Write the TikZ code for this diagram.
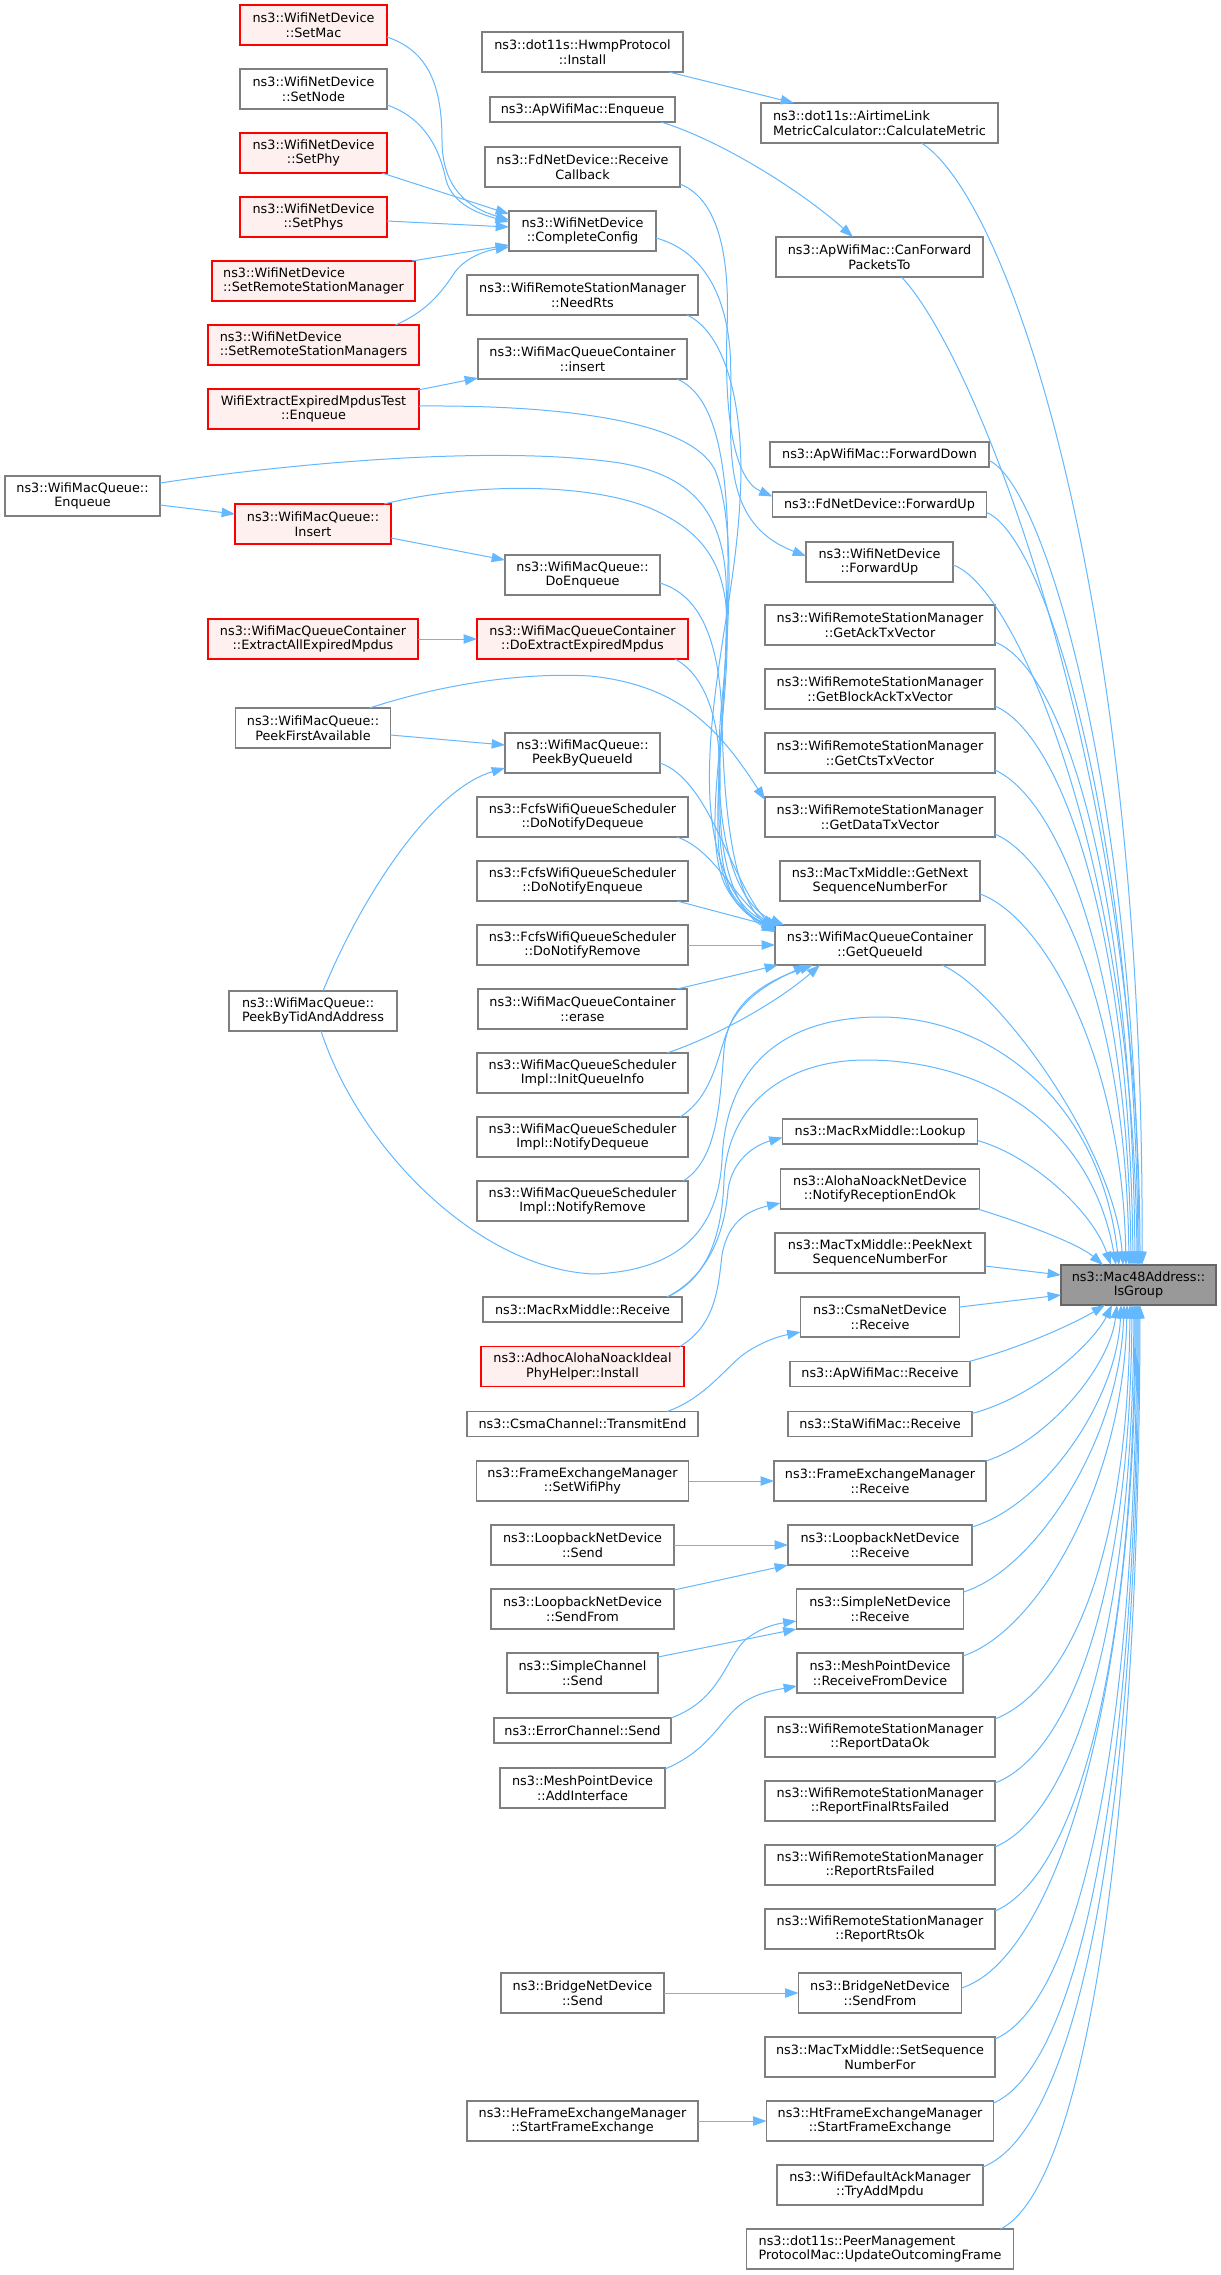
\documentclass[tikz,border=0pt]{standalone}
\usepackage{fontspec}
\setmainfont{DejaVu Sans}
\usetikzlibrary{arrows.meta,calc}
\definecolor{edgeblue}{HTML}{63B8FF}
\definecolor{boxgray}{HTML}{7F7F7F}
\definecolor{redfill}{HTML}{FFF0F0}
\definecolor{rootfill}{HTML}{999999}
\definecolor{rootdraw}{HTML}{666666}
\newcommand\dnode[7]{\node[#6, minimum width=#4*0.75pt, minimum height=#5*0.75pt] (#1) at (#2,#3) {#7};}
\tikzset{
  basebox/.style={rectangle, inner sep=0pt, outer sep=0pt, align=center, line width=0.9pt},
  plainbox/.style={basebox, draw=boxgray, fill=white},
  redbox/.style={basebox, draw=red, fill=redfill},
  rootbox/.style={basebox, draw=rootdraw, fill=rootfill},
  lefttext/.style={align=left},
  callarrow/.style={draw=edgeblue, line width=0.75pt, -{Triangle[length=10pt,width=7pt]}}
}
\begin{document}
\begin{tikzpicture}[x=0.75pt,y=-0.75pt,font=\fontsize{9.6}{11.1}\selectfont]
\useasboundingbox (0,0) rectangle (1221,2275);
\fill[white] (0,0) rectangle (1221,2275);

% ---------- column A / B ----------
\dnode{setmac}{313.5}{25}{147}{40}{redbox}{ns3::WifiNetDevice\\::SetMac}
\dnode{setnode}{313.5}{89}{147}{40}{plainbox}{ns3::WifiNetDevice\\::SetNode}
\dnode{setphy}{313.5}{153}{147}{40}{redbox}{ns3::WifiNetDevice\\::SetPhy}
\dnode{setphys}{313.5}{217}{147}{40}{redbox}{ns3::WifiNetDevice\\::SetPhys}
\dnode{setrsm}{313.5}{281}{203}{40}{redbox,lefttext}{ns3::WifiNetDevice\\::SetRemoteStationManager}
\dnode{setrsms}{313.5}{345}{211}{40}{redbox,lefttext}{ns3::WifiNetDevice\\::SetRemoteStationManagers}
\dnode{wifiext}{313.5}{409}{211}{40}{redbox}{WifiExtractExpiredMpdusTest\\::Enqueue}
\dnode{wmqenq}{82.5}{496}{155}{40}{plainbox}{ns3::WifiMacQueue::\\Enqueue}
\dnode{insq}{313}{524}{156}{40}{redbox}{ns3::WifiMacQueue::\\Insert}
\dnode{extractall}{313}{639}{210}{40}{redbox}{ns3::WifiMacQueueContainer\\::ExtractAllExpiredMpdus}
\dnode{peekfirst}{313}{728}{155}{40}{plainbox}{ns3::WifiMacQueue::\\PeekFirstAvailable}
\dnode{peektid}{313}{1011}{168}{40}{plainbox,lefttext}{ns3::WifiMacQueue::\\PeekByTidAndAddress}

% ---------- column C ----------
\dnode{hwmp}{582.5}{52}{201}{40}{plainbox}{ns3::dot11s::HwmpProtocol\\::Install}
\dnode{apenq}{582.5}{109.5}{185}{25}{plainbox}{ns3::ApWifiMac::Enqueue}
\dnode{rcvcb}{582.5}{167}{195}{40}{plainbox}{ns3::FdNetDevice::Receive\\Callback}
\dnode{cc}{582.5}{231}{147}{40}{plainbox}{ns3::WifiNetDevice\\::CompleteConfig}
\dnode{needrts}{582.5}{295}{231}{40}{plainbox}{ns3::WifiRemoteStationManager\\::NeedRts}
\dnode{insert}{582.5}{359}{209}{40}{plainbox}{ns3::WifiMacQueueContainer\\::insert}
\dnode{doenq}{582.5}{575}{155}{40}{plainbox}{ns3::WifiMacQueue::\\DoEnqueue}
\dnode{doext}{582.5}{639}{211}{40}{redbox}{ns3::WifiMacQueueContainer\\::DoExtractExpiredMpdus}
\dnode{peekbyq}{582.5}{753}{155}{40}{plainbox}{ns3::WifiMacQueue::\\PeekByQueueId}
\dnode{donotdeq}{582.5}{817}{211}{40}{plainbox}{ns3::FcfsWifiQueueScheduler\\::DoNotifyDequeue}
\dnode{donotenq}{582.5}{881}{211}{40}{plainbox}{ns3::FcfsWifiQueueScheduler\\::DoNotifyEnqueue}
\dnode{donotrem}{582.5}{945}{211}{40}{plainbox}{ns3::FcfsWifiQueueScheduler\\::DoNotifyRemove}
\dnode{erase}{582.5}{1009}{209}{40}{plainbox}{ns3::WifiMacQueueContainer\\::erase}
\dnode{initq}{582.5}{1073}{211}{40}{plainbox}{ns3::WifiMacQueueScheduler\\Impl::InitQueueInfo}
\dnode{notdeq}{582.5}{1137}{211}{40}{plainbox}{ns3::WifiMacQueueScheduler\\Impl::NotifyDequeue}
\dnode{notrem}{582.5}{1201}{211}{40}{plainbox}{ns3::WifiMacQueueScheduler\\Impl::NotifyRemove}
\dnode{macrx}{582.5}{1309.5}{199}{25}{plainbox}{ns3::MacRxMiddle::Receive}
\dnode{adhoc}{582.5}{1366.5}{203}{40}{redbox}{ns3::AdhocAlohaNoackIdeal\\PhyHelper::Install}
\dnode{csmach}{582.5}{1424}{231}{25}{plainbox}{ns3::CsmaChannel::TransmitEnd}
\dnode{setwifiphy}{582.5}{1481}{212}{40}{plainbox}{ns3::FrameExchangeManager\\::SetWifiPhy}
\dnode{lbsend}{582.5}{1545}{183}{40}{plainbox}{ns3::LoopbackNetDevice\\::Send}
\dnode{lbsendfrom}{582.5}{1609}{183}{40}{plainbox}{ns3::LoopbackNetDevice\\::SendFrom}
\dnode{simplech}{582.5}{1673}{151}{40}{plainbox}{ns3::SimpleChannel\\::Send}
\dnode{errch}{582.5}{1730.5}{177}{25}{plainbox}{ns3::ErrorChannel::Send}
\dnode{meshadd}{582.5}{1788}{165}{40}{plainbox}{ns3::MeshPointDevice\\::AddInterface}
\dnode{bridgesend}{582.5}{1993}{163}{40}{plainbox}{ns3::BridgeNetDevice\\::Send}
\dnode{hefem}{582.5}{2121}{231}{40}{plainbox}{ns3::HeFrameExchangeManager\\::StartFrameExchange}

% ---------- column D ----------
\dnode{airtime}{879.5}{123}{237}{40}{plainbox,lefttext}{ns3::dot11s::AirtimeLink\\MetricCalculator::CalculateMetric}
\dnode{canfwd}{879.5}{257}{207}{40}{plainbox}{ns3::ApWifiMac::CanForward\\PacketsTo}
\dnode{fwddown}{879.5}{454.5}{219}{25}{plainbox}{ns3::ApWifiMac::ForwardDown}
\dnode{fdfwd}{879.5}{504.5}{214}{25}{plainbox}{ns3::FdNetDevice::ForwardUp}
\dnode{wndfwd}{879.5}{562}{147}{40}{plainbox}{ns3::WifiNetDevice\\::ForwardUp}
\dnode{getack}{880}{625}{230}{40}{plainbox}{ns3::WifiRemoteStationManager\\::GetAckTxVector}
\dnode{getblock}{880}{689}{230}{40}{plainbox}{ns3::WifiRemoteStationManager\\::GetBlockAckTxVector}
\dnode{getcts}{880}{753}{230}{40}{plainbox}{ns3::WifiRemoteStationManager\\::GetCtsTxVector}
\dnode{getdata}{880}{817}{230}{40}{plainbox}{ns3::WifiRemoteStationManager\\::GetDataTxVector}
\dnode{getnext}{880}{881}{200}{40}{plainbox}{ns3::MacTxMiddle::GetNext\\SequenceNumberFor}
\dnode{gq}{880}{945}{210}{40}{plainbox}{ns3::WifiMacQueueContainer\\::GetQueueId}
\dnode{lookup}{880}{1131.5}{195}{25}{plainbox}{ns3::MacRxMiddle::Lookup}
\dnode{notifyrx}{880}{1189}{199}{40}{plainbox}{ns3::AlohaNoackNetDevice\\::NotifyReceptionEndOk}
\dnode{peeknext}{880}{1253}{210}{40}{plainbox}{ns3::MacTxMiddle::PeekNext\\SequenceNumberFor}
\dnode{csmand}{880}{1317}{159}{40}{plainbox}{ns3::CsmaNetDevice\\::Receive}
\dnode{aprcv}{880}{1374}{180}{25}{plainbox}{ns3::ApWifiMac::Receive}
\dnode{starcv}{880}{1424}{184}{25}{plainbox}{ns3::StaWifiMac::Receive}
\dnode{femrcv}{880}{1481}{212}{40}{plainbox}{ns3::FrameExchangeManager\\::Receive}
\dnode{lbrcv}{880}{1545}{184}{40}{plainbox}{ns3::LoopbackNetDevice\\::Receive}
\dnode{simplend}{880}{1609}{167}{40}{plainbox}{ns3::SimpleNetDevice\\::Receive}
\dnode{meshrcv}{880}{1673}{166}{40}{plainbox}{ns3::MeshPointDevice\\::ReceiveFromDevice}
\dnode{reportdata}{880}{1737}{230}{40}{plainbox}{ns3::WifiRemoteStationManager\\::ReportDataOk}
\dnode{reportfinal}{880}{1801}{230}{40}{plainbox}{ns3::WifiRemoteStationManager\\::ReportFinalRtsFailed}
\dnode{reportrtsf}{880}{1865}{230}{40}{plainbox}{ns3::WifiRemoteStationManager\\::ReportRtsFailed}
\dnode{reportrtsok}{880}{1929}{230}{40}{plainbox}{ns3::WifiRemoteStationManager\\::ReportRtsOk}
\dnode{bridgefrom}{880}{1993}{163}{40}{plainbox}{ns3::BridgeNetDevice\\::SendFrom}
\dnode{setseq}{880}{2057}{230}{40}{plainbox}{ns3::MacTxMiddle::SetSequence\\NumberFor}
\dnode{htfem}{880}{2121}{227}{40}{plainbox}{ns3::HtFrameExchangeManager\\::StartFrameExchange}
\dnode{tryadd}{880}{2185}{206}{40}{plainbox}{ns3::WifiDefaultAckManager\\::TryAddMpdu}
\dnode{peermgmt}{880}{2249}{267}{40}{plainbox,lefttext}{ns3::dot11s::PeerManagement\\ProtocolMac::UpdateOutcomingFrame}

% ---------- root ----------
\dnode{isg}{1138.5}{1285}{155}{40}{rootbox}{ns3::Mac48Address::\\IsGroup}

% ---------- edges into CompleteConfig ----------
\draw[callarrow] ($(setmac.east)+(0,12)$) .. controls (425,50) and (442,80) .. (442,140) .. controls (442,190) and (470,208) .. ($(cc.west)+(0,-11)$);
\draw[callarrow] ($(setnode.east)+(0,16)$) .. controls (425,118) and (440,150) .. (446,180) .. controls (453,205) and (480,214) .. ($(cc.west)+(0,-9)$);
\draw[callarrow] ($(setphy.south east)+(-5,0)$) -- ($(cc.west)+(0,-17)$);
\draw[callarrow] ($(setphys.east)+(0,4)$) -- ($(cc.west)+(0,-4)$);
\draw[callarrow] ($(setrsm.north east)+(-3,0)$) -- ($(cc.west)+(0,14)$);
\draw[callarrow] ($(setrsms.north)+(82,0)$) .. controls (425,312) and (440,295) .. (455,272) .. controls (468,255) and (490,250) .. ($(cc.west)+(0,16)$);

% ---------- column C to column D (upper) ----------
\draw[callarrow] ($(hwmp.south east)+(-14,0)$) -- ($(airtime.north west)+(33,0)$);
\draw[callarrow] ($(apenq.south east)+(-14,0)$) .. controls (720,140) and (800,190) .. ($(canfwd.north west)+(77,0)$);
\draw[callarrow] ($(rcvcb.south east)+(0,-3)$) .. controls (720,200) and (730,260) .. (727,330) .. controls (724,420) and (735,480) .. ($(fdfwd.west)+(0,-8)$);
\draw[callarrow] ($(cc.east)+(0,7)$) .. controls (700,250) and (725,290) .. (730,350) .. controls (735,430) and (712,520) .. ($(wndfwd.west)+(0,-6)$);

% ---------- edges into GetQueueId ----------
\draw[callarrow] ($(needrts.south east)+(-11,0)$) .. controls (730,335) and (745,420) .. (740,500) .. controls (735,600) and (705,700) .. (710,800) .. controls (715,880) and (745,915) .. ($(gq.north west)+(3,0)$);
\draw[callarrow] ($(insert.south east)+(-10,0)$) .. controls (715,395) and (728,460) .. (728,560) .. controls (728,700) and (712,800) .. (720,860) .. controls (728,905) and (750,920) .. ($(gq.north west)+(6,0)$);
\draw[callarrow] ($(wifiext.north east)+(-1,1)$) -- ($(insert.south west)+(0,-1)$);
\draw[callarrow] ($(wifiext.east)+(0,-3)$) .. controls (560,405) and (690,420) .. (715,470) .. controls (735,520) and (730,620) .. (722,700) .. controls (712,800) and (725,900) .. ($(gq.north west)+(9,0)$);
\draw[callarrow] ($(wmqenq.north east)+(0,7)$) .. controls (300,462) and (500,445) .. (620,463) .. controls (690,475) and (722,510) .. (726,580) .. controls (730,700) and (705,820) .. (730,890) .. controls (742,912) and (760,922) .. ($(gq.north west)+(1,0)$);
\draw[callarrow] ($(wmqenq.east)+(0,9)$) -- ($(insq.west)+(0,-10)$);
\draw[callarrow] ($(insq.north east)+(-7,0)$) .. controls (460,485) and (580,480) .. (650,508) .. controls (700,530) and (725,560) .. (727,620) .. controls (730,720) and (700,830) .. (725,885) .. controls (738,910) and (755,920) .. ($(gq.north west)+(0,4)$);
\draw[callarrow] ($(insq.east)+(0,14)$) -- ($(doenq.west)+(0,-15)$);
\draw[callarrow] ($(doenq.east)+(0,8)$) .. controls (700,595) and (720,640) .. (722,720) .. controls (724,820) and (735,900) .. ($(gq.north west)+(0,6)$);
\draw[callarrow] (extractall.east) -- (doext.west);
\draw[callarrow] ($(doext.south east)+(-13,0)$) .. controls (705,675) and (722,720) .. (720,790) .. controls (718,870) and (740,915) .. ($(gq.north west)+(0,7)$);
\draw[callarrow] ($(peekfirst.east)+(0,7)$) -- ($(peekbyq.west)+(0,-8)$);
\draw[callarrow] ($(peekfirst.north east)+(-21,0)$) .. controls (440,685) and (520,672) .. (590,676) .. controls (680,685) and (720,730) .. ($(getdata.north west)+(0,3)$);
\draw[callarrow] ($(peekbyq.east)+(0,10)$) .. controls (710,780) and (730,880) .. ($(gq.north west)+(0,5)$);
\draw[callarrow] ($(donotdeq.south east)+(-11,0)$) .. controls (715,850) and (735,900) .. ($(gq.north west)+(0,2)$);
\draw[callarrow] ($(donotenq.south east)+(-11,0)$) -- ($(gq.west)+(0,-18)$);
\draw[callarrow] (donotrem.east) -- (gq.west);
\draw[callarrow] ($(erase.north east)+(-10,0)$) -- ($(gq.south west)+(3,0)$);
\draw[callarrow] ($(initq.north east)+(-21,0)$) .. controls (720,1035) and (780,1000) .. ($(gq.south west)+(45,0)$);
\draw[callarrow] ($(notdeq.north east)+(-8,0)$) .. controls (715,1095) and (718,1050) .. (730,1025) .. controls (745,995) and (775,980) .. ($(gq.south west)+(32,0)$);
\draw[callarrow] ($(notrem.north east)+(-5,0)$) .. controls (718,1160) and (720,1100) .. (724,1050) .. controls (728,1000) and (770,980) .. ($(gq.south west)+(38,0)$);

% ---------- PeekByTidAndAddress, MacRxMiddle and lower left edges ----------
\draw[callarrow] ($(peektid.north)+(10,0)$) .. controls (360,900) and (430,790) .. ($(peekbyq.west)+(0,15)$);
\draw[callarrow] ($(peektid.south)+(8,0)$) .. controls (360,1150) and (480,1270) .. (595,1274) .. controls (680,1270) and (718,1230) .. (722,1160) .. controls (726,1060) and (790,1017) .. (880,1017) .. controls (990,1017) and (1100,1100) .. ($(isg.north west)+(58,0)$);
\draw[callarrow] ($(macrx.north east)+(-15,0)$) .. controls (705,1280) and (722,1240) .. (724,1180) .. controls (728,1100) and (790,1060) .. (866,1060) .. controls (980,1060) and (1090,1120) .. ($(isg.north west)+(55,0)$);
\draw[callarrow] ($(macrx.north east)+(-15,0)$) .. controls (710,1275) and (725,1230) .. (728,1190) .. controls (732,1160) and (755,1145) .. ($(lookup.west)+(0,6)$);
\draw[callarrow] ($(adhoc.north east)+(-4,0)$) .. controls (715,1325) and (718,1290) .. (722,1255) .. controls (728,1220) and (750,1210) .. ($(notifyrx.west)+(0,14)$);
\draw[callarrow] ($(csmach.north east)+(-31,0)$) .. controls (700,1400) and (720,1375) .. (740,1357) .. controls (755,1345) and (775,1337) .. ($(csmand.west)+(0,15)$);
\draw[callarrow] (setwifiphy.east) -- (femrcv.west);
\draw[callarrow] (lbsend.east) -- (lbrcv.west);
\draw[callarrow] ($(lbsendfrom.north east)+(0,1)$) -- (lbrcv.south west);
\draw[callarrow] ($(simplech.north east)+(0,4)$) -- (simplend.south west);
\draw[callarrow] (errch.north east) .. controls (720,1700) and (725,1660) .. (745,1640) .. controls (760,1628) and (775,1624) .. ($(simplend.west)+(0,12)$);
\draw[callarrow] ($(meshadd.north east)+(0,1)$) .. controls (710,1750) and (720,1720) .. (740,1705) .. controls (755,1693) and (775,1690) .. ($(meshrcv.west)+(0,13)$);
\draw[callarrow] (bridgesend.east) -- (bridgefrom.west);
\draw[callarrow] (hefem.east) -- (htfem.west);

% ---------- edges into IsGroup from above ----------
\draw[callarrow] ($(airtime.south)+(42,0)$) .. controls (1010,200) and (1145,600) .. ($(isg.north west)+(81,0)$);
\draw[callarrow] ($(canfwd.south)+(22,0)$) .. controls (980,360) and (1140,780) .. ($(isg.north west)+(79,0)$);
\draw[callarrow] ($(fwddown.east)+(0,6)$) .. controls (1045,485) and (1138,800) .. ($(isg.north west)+(78,0)$);
\draw[callarrow] ($(fdfwd.east)+(0,8)$) .. controls (1045,535) and (1136,830) .. ($(isg.north west)+(77,0)$);
\draw[callarrow] ($(wndfwd.east)+(0,3)$) .. controls (1015,585) and (1134,860) .. ($(isg.north west)+(76,0)$);
\draw[callarrow] ($(getack.south east)+(0,-3)$) .. controls (1065,670) and (1132,890) .. ($(isg.north west)+(74,0)$);
\draw[callarrow] ($(getblock.south east)+(0,-3)$) .. controls (1062,735) and (1130,930) .. ($(isg.north west)+(72,0)$);
\draw[callarrow] ($(getcts.south east)+(0,-3)$) .. controls (1060,800) and (1128,970) .. ($(isg.north west)+(70,0)$);
\draw[callarrow] ($(getdata.south east)+(0,-3)$) .. controls (1058,862) and (1126,1010) .. ($(isg.north west)+(68,0)$);
\draw[callarrow] ($(getnext.east)+(0,13)$) .. controls (1040,915) and (1122,1050) .. ($(isg.north west)+(65,0)$);
\draw[callarrow] ($(gq.south east)+(-43,0)$) .. controls (1000,990) and (1115,1150) .. ($(isg.north west)+(62,0)$);
\draw[callarrow] ($(lookup.east)+(0,9)$) .. controls (1030,1155) and (1092,1210) .. ($(isg.north west)+(50,0)$);
\draw[callarrow] ($(notifyrx.south east)+(-2,0)$) .. controls (1030,1225) and (1080,1245) .. ($(isg.north west)+(42,0)$);

% ---------- edges into IsGroup from the left ----------
\draw[callarrow] ($(peeknext.east)+(0,13)$) -- ($(isg.west)+(0,-10)$);
\draw[callarrow] ($(csmand.east)+(0,-10)$) -- ($(isg.west)+(0,10)$);

% ---------- edges into IsGroup from below ----------
\draw[callarrow] ($(aprcv.north east)+(-1,0)$) .. controls (1030,1345) and (1080,1320) .. ($(isg.south west)+(44,0)$);
\draw[callarrow] ($(starcv.north east)+(0,2)$) .. controls (1040,1395) and (1095,1340) .. ($(isg.south west)+(51,0)$);
\draw[callarrow] (femrcv.north east) .. controls (1050,1440) and (1110,1365) .. ($(isg.south west)+(56,0)$);
\draw[callarrow] ($(lbrcv.east)+(0,-18)$) .. controls (1045,1505) and (1117,1400) .. ($(isg.south west)+(60,0)$);
\draw[callarrow] ($(simplend.east)+(0,-17)$) .. controls (1035,1570) and (1120,1440) .. ($(isg.south west)+(63,0)$);
\draw[callarrow] ($(meshrcv.east)+(0,-17)$) .. controls (1040,1630) and (1124,1480) .. ($(isg.south west)+(66,0)$);
\draw[callarrow] ($(reportdata.north east)+(0,2)$) .. controls (1068,1690) and (1128,1560) .. ($(isg.south west)+(69,0)$);
\draw[callarrow] ($(reportfinal.north east)+(0,2)$) .. controls (1068,1755) and (1130,1600) .. ($(isg.south west)+(71,0)$);
\draw[callarrow] ($(reportrtsf.north east)+(0,2)$) .. controls (1070,1815) and (1132,1640) .. ($(isg.south west)+(73,0)$);
\draw[callarrow] ($(reportrtsok.north east)+(0,2)$) .. controls (1072,1878) and (1134,1680) .. ($(isg.south west)+(74,0)$);
\draw[callarrow] ($(bridgefrom.east)+(0,-5)$) .. controls (1050,1960) and (1135,1720) .. ($(isg.south west)+(75,0)$);
\draw[callarrow] ($(setseq.north east)+(0,2)$) .. controls (1075,2005) and (1136,1760) .. ($(isg.south west)+(76,0)$);
\draw[callarrow] ($(htfem.north east)+(0,2)$) .. controls (1075,2068) and (1137,1800) .. ($(isg.south west)+(77,0)$);
\draw[callarrow] ($(tryadd.north east)+(0,2)$) .. controls (1075,2130) and (1138,1840) .. ($(isg.south west)+(78,0)$);
\draw[callarrow] ($(peermgmt.north east)+(-13,0)$) .. controls (1080,2190) and (1139,1860) .. ($(isg.south west)+(79,0)$);
\end{tikzpicture}
\end{document}
